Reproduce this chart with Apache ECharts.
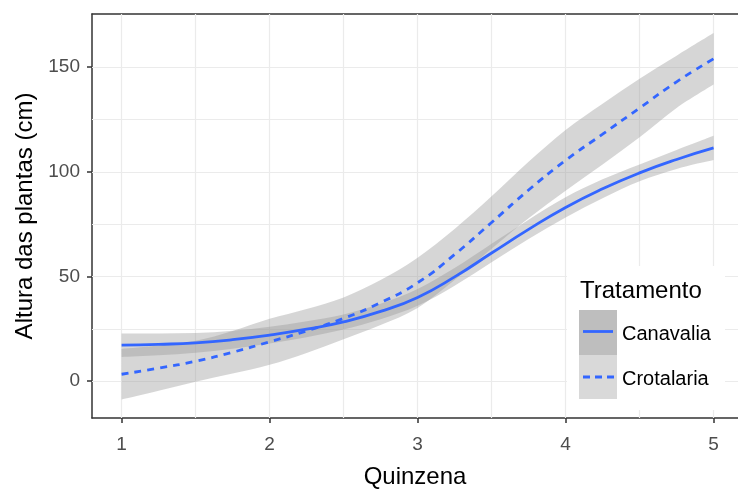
<!DOCTYPE html>
<html>
<head>
<meta charset="utf-8">
<script src="https://cdn.jsdelivr.net/npm/echarts@6/dist/echarts.min.js"></script>
<style>
html,body{margin:0;padding:0;background:#fff;overflow:hidden;}
#c{width:738px;height:492px;}
</style>
</head>
<body>
<div id="c"></div>
<script>
// ---- data ----
const xs = [1, 1.25, 1.5, 1.75, 2, 2.25, 2.5, 2.75, 3, 3.25, 3.5, 3.75, 4, 4.25, 4.5, 4.75, 5];

const canMean = [17.2, 17.6, 18.3, 19.8, 22.0, 24.8, 28.3, 33.3, 40.0, 49.8, 61.2, 72.5, 83.0, 91.9, 99.5, 105.9, 111.4];
const canLo   = [11.6, 12.4, 13.6, 15.5, 18.0, 21.0, 24.7, 29.6, 36.0, 45.6, 56.8, 67.9, 78.2, 87.4, 95.5, 101.4, 105.6];
const canHi   = [22.8, 22.8, 23.0, 24.1, 26.0, 28.6, 31.9, 37.0, 44.0, 54.0, 65.6, 77.1, 87.8, 96.4, 103.5, 110.4, 117.2];

const croMean = [3.3, 6.2, 9.5, 13.8, 18.8, 24.0, 30.0, 37.5, 47.0, 60.5, 75.8, 91.3, 105.5, 118.0, 130.5, 143.0, 154.0];
const croLo   = [-8.8, -4.6, -0.3, 3.6, 7.8, 13.5, 20.0, 26.8, 35.0, 48.3, 63.3, 77.8, 91.0, 103.5, 116.5, 130.5, 141.7];
const croHi   = [15.4, 17.0, 19.3, 24.0, 29.8, 34.5, 40.0, 48.3, 59.0, 72.7, 88.3, 104.8, 120.0, 132.5, 144.5, 155.5, 166.3];

const seriesNames = ['Canavalia', 'Crotalaria'];
const xTicks = [1, 2, 3, 4, 5];
const yTicks = [0, 50, 100, 150];
const xGrid = [1, 1.5, 2, 2.5, 3, 3.5, 4, 4.5, 5];
const yGrid = [0, 25, 50, 75, 100, 125, 150];

// ---- chart ----
const FONT = 'Liberation Sans, Arial, sans-serif';
const BLUE = '#3366FF';
const BAND = 'rgba(153,153,153,0.4)';
const X_MIN = 0.8, X_MAX = 5.165, Y_MIN = -17.6, Y_MAX = 175.4;

// smooth curve (Catmull-Rom -> cubic Bezier) through pixel points
function curvePath(pts, moveFirst) {
  let d = (moveFirst ? 'M' : 'L') + pts[0][0] + ' ' + pts[0][1];
  for (let i = 0; i < pts.length - 1; i++) {
    const p0 = pts[Math.max(i - 1, 0)], p1 = pts[i], p2 = pts[i + 1], p3 = pts[Math.min(i + 2, pts.length - 1)];
    const c1x = p1[0] + (p2[0] - p0[0]) / 6, c1y = p1[1] + (p2[1] - p0[1]) / 6;
    const c2x = p2[0] - (p3[0] - p1[0]) / 6, c2y = p2[1] - (p3[1] - p1[1]) / 6;
    d += ' C' + c1x + ' ' + c1y + ' ' + c2x + ' ' + c2y + ' ' + p2[0] + ' ' + p2[1];
  }
  return d;
}

function bandRenderer(lo, hi) {
  return function (params, api) {
    if (params.dataIndex !== 0) return null;
    const top = xs.map((x, i) => api.coord([x, hi[i]]));
    const bot = xs.map((x, i) => api.coord([x, lo[i]])).reverse();
    const d = curvePath(top, true) + ' ' + curvePath(bot, false) + ' Z';
    return { type: 'path', shape: { pathData: d }, style: { fill: BAND }, silent: true };
  };
}

const chart = echarts.init(document.getElementById('c'), null, { renderer: 'canvas' });

const gridLines = xGrid.map(v => ({ xAxis: v })).concat(yGrid.map(v => ({ yAxis: v })));
const borderLine = { show: true, onZero: false, lineStyle: { color: '#333333', width: 1.5 } };

chart.setOption({
  animation: false,
  backgroundColor: '#ffffff',
  grid: { left: 92, top: 14, right: 0, bottom: 74, show: false, containLabel: false, outerBoundsMode: 'none' },
  xAxis: [
    {
      type: 'value', min: X_MIN, max: X_MAX, position: 'bottom',
      name: 'Quinzena', nameLocation: 'middle', nameGap: 47,
      nameTextStyle: { fontFamily: FONT, fontSize: 24, color: '#000' },
      axisLine: borderLine,
      splitLine: { show: false },
      axisTick: { show: true, length: 5, lineStyle: { color: '#333333', width: 1.5 }, customValues: xTicks },
      axisLabel: { customValues: xTicks, fontFamily: FONT, fontSize: 19, color: '#4D4D4D', margin: 17 }
    },
    {
      type: 'value', min: X_MIN, max: X_MAX, position: 'top',
      axisLine: borderLine, axisTick: { show: false }, axisLabel: { show: false }, splitLine: { show: false }
    }
  ],
  yAxis: {
    type: 'value', min: Y_MIN, max: Y_MAX, position: 'left',
    name: 'Altura das plantas (cm)', nameLocation: 'middle', nameGap: 55,
    nameTextStyle: { fontFamily: FONT, fontSize: 24, color: '#000' },
    axisLine: borderLine,
    splitLine: { show: false },
    axisTick: { show: true, length: 5, lineStyle: { color: '#333333', width: 1.5 }, customValues: yTicks },
    axisLabel: { customValues: yTicks, fontFamily: FONT, fontSize: 19, color: '#4D4D4D', margin: 12 }
  },
  series: [
    {
      type: 'line', data: [], silent: true, z: 1,
      markLine: {
        silent: true, z: 1, symbol: ['none', 'none'], animation: false,
        label: { show: false },
        lineStyle: { color: '#EBEBEB', width: 1.2, type: 'solid' },
        emphasis: { disabled: true },
        data: gridLines
      }
    },
    {
      name: seriesNames[0] + ' band', type: 'custom', z: 2, silent: true,
      renderItem: bandRenderer(canLo, canHi),
      encode: { x: 0, y: [1, 2] },
      data: xs.map((x, i) => [x, canLo[i], canHi[i]])
    },
    {
      name: seriesNames[0], type: 'line', z: 2, smooth: true, showSymbol: false, silent: true,
      lineStyle: { color: BLUE, width: 2.8, type: 'solid' },
      data: xs.map((x, i) => [x, canMean[i]])
    },
    {
      name: seriesNames[1] + ' band', type: 'custom', z: 2, silent: true,
      renderItem: bandRenderer(croLo, croHi),
      encode: { x: 0, y: [1, 2] },
      data: xs.map((x, i) => [x, croLo[i], croHi[i]])
    },
    {
      name: seriesNames[1], type: 'line', z: 2, smooth: true, showSymbol: false, silent: true,
      lineStyle: { color: BLUE, width: 2.8, type: [7, 6] },
      data: xs.map((x, i) => [x, croMean[i]])
    }
  ],
  graphic: [
    { type: 'rect', z: 100, shape: { x: 567, y: 266, width: 158, height: 144 }, style: { fill: '#ffffff' } },
    { type: 'text', z: 101, x: 580, y: 291, style: { text: 'Tratamento', fontFamily: FONT, fontSize: 24, fill: '#000', verticalAlign: 'middle', align: 'left' } },
    { type: 'rect', z: 101, shape: { x: 579, y: 310, width: 38, height: 45 }, style: { fill: '#BEBEBE' } },
    { type: 'rect', z: 101, shape: { x: 579, y: 355, width: 38, height: 44 }, style: { fill: '#D9D9D9' } },
    { type: 'line', z: 102, shape: { x1: 583, y1: 331.5, x2: 613, y2: 331.5 }, style: { stroke: BLUE, lineWidth: 2.8 } },
    { type: 'line', z: 102, shape: { x1: 583, y1: 377, x2: 614, y2: 377 }, style: { stroke: BLUE, lineWidth: 2.8, lineDash: [7, 5] } },
    { type: 'text', z: 101, x: 622, y: 334, style: { text: seriesNames[0], fontFamily: FONT, fontSize: 20, fill: '#000', verticalAlign: 'middle', align: 'left' } },
    { type: 'text', z: 101, x: 622, y: 379, style: { text: seriesNames[1], fontFamily: FONT, fontSize: 20, fill: '#000', verticalAlign: 'middle', align: 'left' } }
  ]
});
</script>
</body>
</html>
